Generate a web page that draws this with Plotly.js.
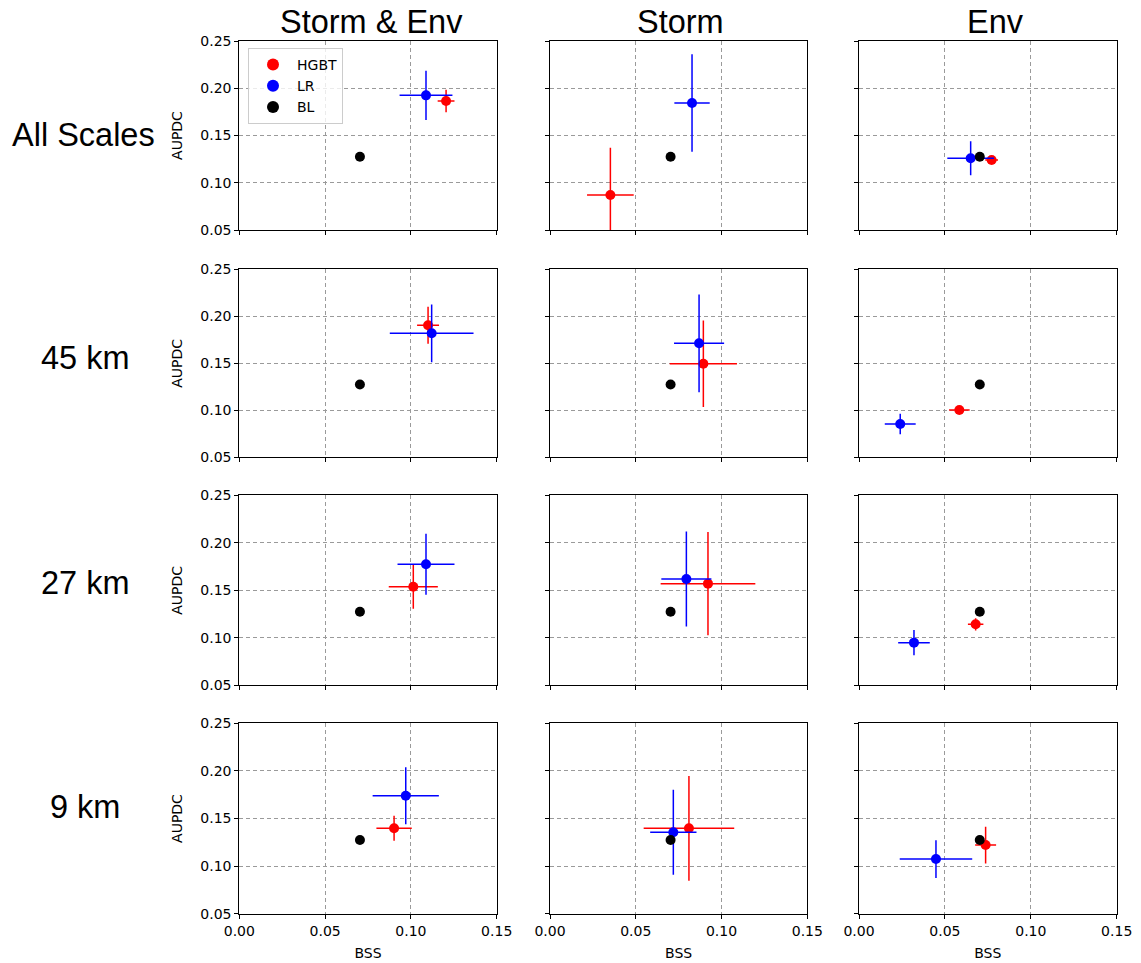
<!DOCTYPE html>
<html>
<head>
<meta charset="utf-8">
<script src="https://cdn.plot.ly/plotly-3.0.1.min.js"></script>
<style>html,body{margin:0;padding:0;background:#fff;}#chart{width:1141px;height:963px;}</style>
</head>
<body>
<div id="chart"></div>
<script>
// Row and column labels
const rowLabels = ['All Scales', '45 km', '27 km', '9 km'];
const colLabels = ['Storm & Env', 'Storm', 'Env'];
const modelNames = ['HGBT', 'LR', 'BL'];
const xTickVals = [0.00, 0.05, 0.10, 0.15];
const yTickVals = [0.05, 0.10, 0.15, 0.20, 0.25];

// HGBT: [row][col]
const hgbtBSS     = [[0.1205, 0.0352, 0.0772], [0.1100, 0.0894, 0.0584], [0.1014, 0.0921, 0.0679], [0.0902, 0.0810, 0.0737]];
const hgbtAUPDC   = [[0.1865, 0.0870, 0.1241], [0.1904, 0.1496, 0.1003], [0.1538, 0.1570, 0.1142], [0.1397, 0.1397, 0.1221]];
const hgbtBSSErr  = [[0.0049, 0.0136, 0.0037], [0.0064, 0.0196, 0.0060], [0.0143, 0.0276, 0.0045], [0.0103, 0.0264, 0.0061]];
const hgbtAUPDCErr= [[0.0120, 0.0500, 0.0040], [0.0197, 0.0460, 0.0020], [0.0233, 0.0544, 0.0065], [0.0131, 0.0550, 0.0193]];

// LR: [row][col]
const lrBSS       = [[0.1088, 0.0828, 0.0650], [0.1121, 0.0869, 0.0240], [0.1088, 0.0795, 0.0320], [0.0970, 0.0719, 0.0448]];
const lrAUPDC     = [[0.1925, 0.1844, 0.1259], [0.1819, 0.1713, 0.0854], [0.1774, 0.1619, 0.0949], [0.1739, 0.1355, 0.1074]];
const lrBSSErr    = [[0.0154, 0.0103, 0.0136], [0.0244, 0.0146, 0.0090], [0.0166, 0.0146, 0.0092], [0.0193, 0.0135, 0.0211]];
const lrAUPDCErr  = [[0.0260, 0.0515, 0.0180], [0.0307, 0.0520, 0.0110], [0.0320, 0.0500, 0.0133], [0.0300, 0.0447, 0.0198]];

// BL (baseline)
const blBSS   = 0.0703;
const blAUPDC = 0.1275;

const W = 1141, H = 963;
const colPx = [[239.3, 496.7], [550, 807.3], [859, 1116.7]];
const rowPx = [[41, 230], [269.3, 457.3], [495.3, 685.3], [723.3, 913.7]];

const colors = {HGBT: '#ff0000', LR: '#0000ff', BL: '#000000'};
const tickFont = {family: 'DejaVu Sans', size: 14, color: '#000'};
const labelFont = {family: 'DejaVu Sans', size: 14, color: '#000'};

const traces = [];
const layout = {
  width: W, height: H,
  margin: {l: 0, r: 0, t: 0, b: 0},
  paper_bgcolor: '#fff', plot_bgcolor: '#fff',
  showlegend: true,
  legend: {
    x: 248 / W, y: 1 - 48 / H, xanchor: 'left', yanchor: 'top',
    bgcolor: 'rgba(255,255,255,0.8)', bordercolor: '#cccccc', borderwidth: 1,
    font: {family: 'DejaVu Sans', size: 14, color: '#000'},
    itemsizing: 'constant', tracegroupgap: 0, itemwidth: 38
  },
  annotations: []
};

function errTrace(name, x, y, ex, ey, ax, showLeg, rank) {
  const c = colors[name];
  return {
    type: 'scatter', mode: 'markers', name: name,
    x: [x], y: [y],
    xaxis: 'x' + ax, yaxis: 'y' + ax,
    marker: {color: c, size: 10},
    error_x: {type: 'data', array: [ex], visible: true, color: c, thickness: 1.5, width: 0},
    error_y: {type: 'data', array: [ey], visible: true, color: c, thickness: 1.5, width: 0},
    showlegend: showLeg, legendrank: rank,
    cliponaxis: true, hoverinfo: 'skip'
  };
}

for (let r = 0; r < 4; r++) {
  for (let c = 0; c < 3; c++) {
    const k = r * 3 + c + 1;
    const first = (k === 1);
    traces.push(errTrace('HGBT', hgbtBSS[r][c], hgbtAUPDC[r][c], hgbtBSSErr[r][c], hgbtAUPDCErr[r][c], k, first, 1));
    traces.push(errTrace('LR', lrBSS[r][c], lrAUPDC[r][c], lrBSSErr[r][c], lrAUPDCErr[r][c], k, first, 2));
    traces.push({
      type: 'scatter', mode: 'markers', name: 'BL',
      x: [blBSS], y: [blAUPDC], xaxis: 'x' + k, yaxis: 'y' + k,
      marker: {color: colors.BL, size: 10},
      showlegend: first, legendrank: 3, hoverinfo: 'skip'
    });

    const xa = {
      domain: [colPx[c][0] / W, colPx[c][1] / W],
      range: [0, 0.15], tickvals: xTickVals, tickformat: '.2f',
      anchor: 'y' + k,
      showline: true, mirror: true, linecolor: '#000', linewidth: 1,
      ticks: 'outside', ticklen: 4, tickwidth: 1, tickcolor: '#000',
      showgrid: true, gridcolor: '#9a9a9a', griddash: '4px,3px', gridwidth: 1,
      zeroline: false, showticklabels: (r === 3), tickfont: tickFont,
      fixedrange: true
    };
    if (r === 3) xa.title = {text: 'BSS', font: labelFont, standoff: 10};
    const ya = {
      domain: [1 - rowPx[r][1] / H, 1 - rowPx[r][0] / H],
      range: [0.05, 0.25], tickvals: yTickVals, tickformat: '.2f',
      anchor: 'x' + k,
      showline: true, mirror: true, linecolor: '#000', linewidth: 1,
      ticks: 'outside', ticklen: 4, tickwidth: 1, tickcolor: '#000',
      showgrid: true, gridcolor: '#9a9a9a', griddash: '4px,3px', gridwidth: 1,
      zeroline: false, showticklabels: (c === 0), tickfont: tickFont,
      fixedrange: true
    };
    if (c === 0) ya.title = {text: 'AUPDC', font: labelFont, standoff: 14};
    layout['xaxis' + k] = xa;
    layout['yaxis' + k] = ya;
  }
}

// Column titles
const colCenters = [371, 680, 995];
colLabels.forEach((t, i) => {
  layout.annotations.push({
    text: t, xref: 'paper', yref: 'paper',
    x: colCenters[i] / W, y: 1 - 22 / H, xanchor: 'center', yanchor: 'middle',
    showarrow: false, font: {family: 'Liberation Sans', size: 32.5, color: '#000'}
  });
});
// Row titles
const rowCenters = [135, 358, 583, 807];
const rowX = [83, 85, 85, 85];
rowLabels.forEach((t, i) => {
  layout.annotations.push({
    text: t, xref: 'paper', yref: 'paper',
    x: rowX[i] / W, y: 1 - rowCenters[i] / H, xanchor: 'center', yanchor: 'middle',
    showarrow: false, font: {family: 'Liberation Sans', size: 32.5, color: '#000'}
  });
});

Plotly.newPlot('chart', traces, layout, {displayModeBar: false, staticPlot: true});
</script>
</body>
</html>
